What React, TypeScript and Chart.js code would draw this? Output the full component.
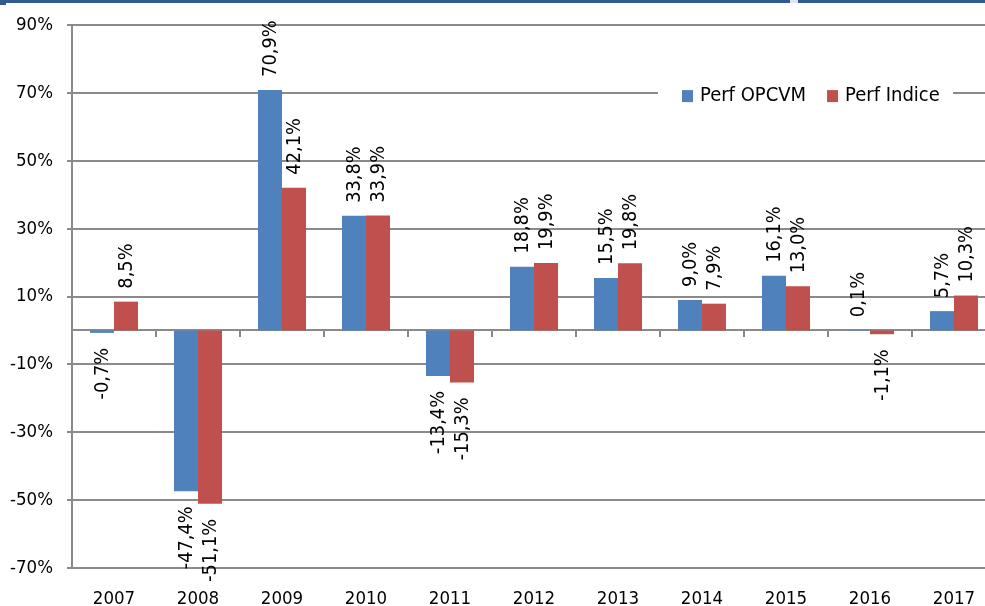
import React, { useEffect, useRef } from 'react';
import { Chart, registerables } from 'chart.js';

Chart.register(...registerables);

const years = ['2007', '2008', '2009', '2010', '2011', '2012', '2013', '2014', '2015', '2016', '2017'];
const perfOpcvm = [-0.7, -47.4, 70.9, 33.8, -13.4, 18.8, 15.5, 9.0, 16.1, 0.1, 5.7];
const perfIndice = [8.5, -51.1, 42.1, 33.9, -15.3, 19.9, 19.8, 7.9, 13.0, -1.1, 10.3];
const yTicks = [-70, -50, -30, -10, 10, 30, 50, 70, 90];
const seriesLabels = ['Perf OPCVM', 'Perf Indice'];
const seriesColors = ['#4F81BD', '#C0504D'];

const GRID = '#8a8a8a';
const FAMILY = '"DejaVu Sans Condensed", "Liberation Sans Narrow", sans-serif';
const AXIS_SIZE = 18.5;
const LEGEND_SIZE = 20;
const LABEL_SIZE = 19.8;

const fmt = (v: number) => v.toFixed(1).replace('.', ',') + '%';

const zeroLinePlugin = {
  id: 'zeroLine',
  beforeDatasetsDraw(chart: any) {
    const { ctx, chartArea, scales } = chart;
    const y0 = Math.round(scales.y.getPixelForValue(0));
    ctx.save();
    ctx.strokeStyle = GRID;
    ctx.lineWidth = 2;
    ctx.beginPath();
    ctx.moveTo(chartArea.left, y0);
    ctx.lineTo(chartArea.right, y0);
    const n = years.length;
    const w = (chartArea.right - chartArea.left) / n;
    for (let i = 1; i <= n; i++) {
      const x = Math.round(chartArea.left + i * w);
      ctx.moveTo(x, y0);
      ctx.lineTo(x, y0 + 7);
    }
    ctx.stroke();
    ctx.restore();
  },
};

const dataLabelPlugin = {
  id: 'dataLabels',
  afterDatasetsDraw(chart: any) {
    const { ctx } = chart;
    ctx.save();
    ctx.font = `${LABEL_SIZE}px ${FAMILY}`;
    ctx.fillStyle = '#000';
    ctx.textBaseline = 'middle';
    chart.data.datasets.forEach((ds: any, di: number) => {
      const meta = chart.getDatasetMeta(di);
      meta.data.forEach((bar: any, i: number) => {
        const v = ds.data[i] as number;
        ctx.save();
        ctx.translate(bar.x + 1, v >= 0 ? bar.y - 13 : bar.y + 15);
        ctx.rotate(-Math.PI / 2);
        ctx.textAlign = v >= 0 ? 'left' : 'right';
        ctx.fillText(fmt(v), 0, 0);
        ctx.restore();
      });
    });
    ctx.restore();
  },
};

const legendPlugin = {
  id: 'customLegend',
  afterDraw(chart: any) {
    const { ctx, chartArea } = chart;
    const cy = chartArea.top + 71;
    ctx.save();
    ctx.fillStyle = '#fff';
    ctx.fillRect(chartArea.left + 586, cy - 14, 295, 28);
    ctx.font = `${LEGEND_SIZE}px ${FAMILY}`;
    ctx.textBaseline = 'middle';
    ctx.textAlign = 'left';
    let x = chartArea.left + 610;
    seriesLabels.forEach((label, i) => {
      ctx.fillStyle = seriesColors[i];
      ctx.fillRect(x, cy - 6, 11, 12);
      x += 18;
      ctx.fillStyle = '#000';
      ctx.fillText(label, x, cy);
      x += ctx.measureText(label).width + 21;
    });
    ctx.restore();
  },
};

export default function App() {
  const ref = useRef<HTMLCanvasElement>(null);

  useEffect(() => {
    const chart = new Chart(ref.current as HTMLCanvasElement, {
      type: 'bar',
      data: {
        labels: years,
        datasets: [
          { label: seriesLabels[0], data: perfOpcvm, backgroundColor: seriesColors[0], borderWidth: 0 },
          { label: seriesLabels[1], data: perfIndice, backgroundColor: seriesColors[1], borderWidth: 0 },
        ],
      },
      options: {
        responsive: false,
        devicePixelRatio: 1,
        animation: false,
        layout: { padding: { top: 24, right: 4, left: 0, bottom: 0 } },
        datasets: { bar: { categoryPercentage: 0.572, barPercentage: 1 } },
        plugins: {
          legend: { display: false },
          tooltip: { enabled: false },
          title: { display: false },
        },
        scales: {
          x: {
            type: 'category',
            offset: true,
            grid: { display: false, drawTicks: false },
            border: { display: false },
            ticks: {
              font: { family: FAMILY, size: AXIS_SIZE },
              color: '#000',
              padding: 20,
              maxRotation: 0,
              autoSkip: false,
            },
            afterFit: (s: any) => {
              s.height = 38;
            },
          },
          y: {
            min: -70,
            max: 90,
            afterBuildTicks: (s: any) => {
              s.ticks = yTicks.map((v) => ({ value: v }));
            },
            grid: { color: GRID, lineWidth: 2, tickLength: 5, drawTicks: true },
            border: { color: GRID, width: 2 },
            ticks: {
              callback: (v: any) => `${v}%`,
              font: { family: FAMILY, size: AXIS_SIZE },
              color: '#000',
              padding: 14,
            },
            afterFit: (s: any) => {
              s.width = 72;
            },
          },
        },
      },
      plugins: [zeroLinePlugin, dataLabelPlugin, legendPlugin],
    } as any);
    return () => chart.destroy();
  }, []);

  return (
    <div
      style={{
        position: 'fixed',
        left: 0,
        top: 0,
        width: 985,
        height: 606,
        overflow: 'hidden',
        background: '#fff',
      }}
    >
      <canvas ref={ref} width={1000} height={606} style={{ display: 'block', width: 1000, height: 606 }} />
      <div style={{ position: 'absolute', left: 0, top: 0, width: 985, height: 3, background: '#2F5B8F' }} />
      <div style={{ position: 'absolute', left: 0, top: 0, width: 6, height: 5, background: '#2F5B8F' }} />
      <div style={{ position: 'absolute', left: 790, top: 0, width: 8, height: 3, background: '#dfe6ef' }} />
    </div>
  );
}
